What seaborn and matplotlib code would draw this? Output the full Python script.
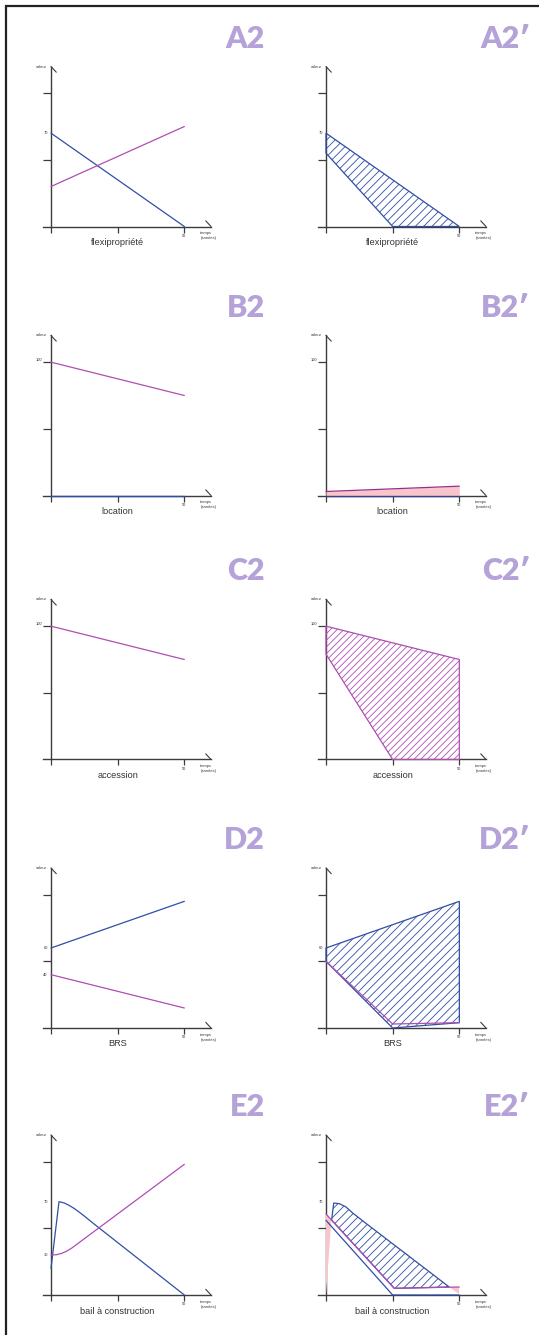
import seaborn as sns
import matplotlib.pyplot as plt
from matplotlib.patches import Rectangle

sns.set_theme(style="white")
plt.rcParams["font.family"] = ["Liberation Sans", "DejaVu Sans"]
plt.rcParams["hatch.linewidth"] = 0.6

# couleurs
BLEU = "#2f4fa6"
ROSE = "#b04db3"
ROSE_FONCE = "#9a2e8c"
ROSE_CLAIR = "#f7c5ca"
LAVANDE = "#b4a2d8"
AXE = "#3c3c3c"

# données : temps (années) / valeur
t = [0, 50]

a2_bleu = [70, 0]
a2_rose = [30, 75]
a2p_x = [0, 50, 25, 0]
a2p_y = [70, 0, 0, 55]

b2_rose = [100, 75]
b2_bleu = [0, 0]
b2p_rose = [3, 7]

c2_rose = [100, 75]
c2p_x = [0, 50, 50, 25, 0]
c2p_y = [100, 75, 0, 0, 79]

d2_bleu = [60, 95]
d2_rose = [40, 15]
d2p_x = [0, 50, 50, 25, 0]
d2p_y = [60, 95, 4, 0, 50]
d2p_rose_x = [0, 25, 50]
d2p_rose_y = [50, 3, 4]

e2_bleu_x = [0, 3, 5, 7, 9, 12, 16, 50]
e2_bleu_y = [20, 70, 69, 67, 64.5, 60, 53.5, 0]
e2_rose_x = [0, 2, 4, 6, 8, 10, 50]
e2_rose_y = [30, 30.2, 31.2, 33, 35.5, 38.5, 98]
e2p_x = [2.1, 2.9, 5, 7.5, 10, 15, 27.5, 40, 46.2, 25.6]
e2p_y = [56.2, 69, 68.5, 66, 61.5, 53.7, 34.6, 15.5, 6, 5]
e2p_rose_x = [0, 25.6, 50]
e2p_rose_y = [60.75, 5, 6]
e2p_bleu_x = [0, 25, 50]
e2p_bleu_y = [56, 0, 0]
e2p_coin_x = [0, 0, 2]
e2p_coin_y = [0, 61, 56]
e2p_fin_x = [46, 50, 50]
e2p_fin_y = [6, 6, 1]

# mise en page (pixels)
W, H = 539, 1335
SX, SY = 400 / 150, 4 / 3
XMIN, XMAX, YMIN, YMAX = -8, 68, -16, 124
OY = [226.5, 495.5, 759.5, 1028, 1295]
OX = [51, 326]

fig = plt.figure(figsize=(W / 100, H / 100), dpi=100)
fig.add_artist(Rectangle((6 / W, -0.01), 1.1, 1 - 6 / H + 0.01,
                         transform=fig.transFigure, fill=False,
                         lw=1.6, ec="#222222"))


def panneau(col, row, titre):
    ox, oy = OX[col], OY[row]
    ax = fig.add_axes([(ox + XMIN * SX) / W,
                       1 - (oy - YMIN * SY) / H,
                       (XMAX - XMIN) * SX / W,
                       (YMAX - YMIN) * SY / H])
    right = 265 if col == 0 else 530
    fig.text(right / W, 1 - (oy - 179) / H, titre, ha="right",
             va="baseline", fontsize=22, fontweight="heavy", color=LAVANDE,
             family=["Lato", "DejaVu Sans"])
    return ax


def habiller(ax, nom, etiquettes):
    ax.set_xlim(XMIN, XMAX)
    ax.set_ylim(YMIN, YMAX)
    ax.set_xlabel("")
    ax.set_ylabel("")
    ax.patch.set_alpha(0)
    for s in ["top", "right"]:
        ax.spines[s].set_visible(False)
    for s in ["left", "bottom"]:
        ax.spines[s].set_position(("data", 0))
        ax.spines[s].set_color(AXE)
        ax.spines[s].set_linewidth(1.0)
        ax.spines[s].set_zorder(1)
    ax.spines["left"].set_bounds(0, 120)
    ax.spines["bottom"].set_bounds(-3, 60)
    ax.set_xticks([0, 25, 50])
    ax.set_yticks([50, 100])
    ax.tick_params(axis="x", bottom=True, direction="out", length=4.5,
                   width=0.9, color=AXE, labelbottom=False)
    ax.tick_params(axis="y", left=True, direction="out", length=5.8,
                   width=0.9, color=AXE, labelleft=False)
    # demi-flèches au bout des axes
    ax.annotate("", xy=(0, 120), xytext=(3.8, -4.1), textcoords="offset points",
                arrowprops=dict(arrowstyle="-", lw=0.8, color=AXE,
                                shrinkA=0, shrinkB=0))
    ax.annotate("", xy=(60, 0), xytext=(-3.8, 4.1), textcoords="offset points",
                arrowprops=dict(arrowstyle="-", lw=0.8, color=AXE,
                                shrinkA=0, shrinkB=0))
    petit = dict(fontsize=2.9, color="#333333")
    ax.text(-1.6, 120, "valeur", ha="right", va="center", **petit)
    ax.text(50, -5.5, "50", ha="center", va="top", **petit)
    ax.text(56, -3.5, "temps\n(années)", ha="left", va="top",
            linespacing=1.3, **petit)
    for v in etiquettes:
        if v == 100:
            ax.text(-3.3, v + 1.5, str(v), ha="right", va="center", **petit)
        else:
            ax.text(-1.2, v, str(v), ha="right", va="center", **petit)
    ax.text(25, -12, nom, ha="center", va="center", fontsize=6.6,
            color="#333333")


def ligne(ax, x, y, couleur, lw=0.9):
    sns.lineplot(x=x, y=y, ax=ax, color=couleur, lw=lw, zorder=3)


# A2
ax = panneau(0, 0, "A2")
ligne(ax, t, a2_bleu, BLEU)
ligne(ax, t, a2_rose, ROSE)
habiller(ax, "flexipropriété", [70])

# A2'
ax = panneau(1, 0, "A2\u2032")
ax.fill(a2p_x, a2p_y, facecolor="none", edgecolor=BLEU, hatch="////",
        lw=0.9, zorder=3)
habiller(ax, "flexipropriété", [70])

# B2
ax = panneau(0, 1, "B2")
ligne(ax, t, b2_rose, ROSE)
ligne(ax, t, b2_bleu, BLEU, lw=1.0)
habiller(ax, "location", [100])

# B2'
ax = panneau(1, 1, "B2\u2032")
ax.fill_between(t, 0, b2p_rose, color=ROSE_CLAIR, lw=0, zorder=2)
ligne(ax, t, b2p_rose, ROSE_FONCE)
ligne(ax, t, b2_bleu, "#3b3f8f", lw=1.0)
habiller(ax, "location", [100])

# C2
ax = panneau(0, 2, "C2")
ligne(ax, t, c2_rose, ROSE)
habiller(ax, "accession", [100])

# C2'
ax = panneau(1, 2, "C2\u2032")
ax.fill(c2p_x, c2p_y, facecolor="none", edgecolor=ROSE, hatch="/////",
        lw=0.9, zorder=3)
habiller(ax, "accession", [100])

# D2
ax = panneau(0, 3, "D2")
ligne(ax, t, d2_bleu, BLEU)
ligne(ax, t, d2_rose, ROSE)
habiller(ax, "BRS", [60, 40])

# D2'
ax = panneau(1, 3, "D2\u2032")
ax.fill(d2p_x, d2p_y, facecolor="none", edgecolor=BLEU, hatch="////",
        lw=0.9, zorder=3)
ligne(ax, d2p_rose_x, d2p_rose_y, ROSE)
habiller(ax, "BRS", [60])

# E2
ax = panneau(0, 4, "E2")
ligne(ax, e2_bleu_x, e2_bleu_y, BLEU)
ligne(ax, e2_rose_x, e2_rose_y, ROSE)
habiller(ax, "bail à construction", [70, 30])

# E2'
ax = panneau(1, 4, "E2\u2032")
ax.fill(e2p_coin_x, e2p_coin_y, color=ROSE_CLAIR, lw=0, zorder=2)
ax.fill(e2p_fin_x, e2p_fin_y, color=ROSE_CLAIR, lw=0, zorder=2)
ax.fill(e2p_x, e2p_y, facecolor="none", edgecolor=BLEU, hatch="////",
        lw=0.9, zorder=3)
ligne(ax, e2p_bleu_x, e2p_bleu_y, BLEU)
ligne(ax, e2p_rose_x, e2p_rose_y, ROSE)
habiller(ax, "bail à construction", [70])

fig.savefig("out.png", dpi=100)
